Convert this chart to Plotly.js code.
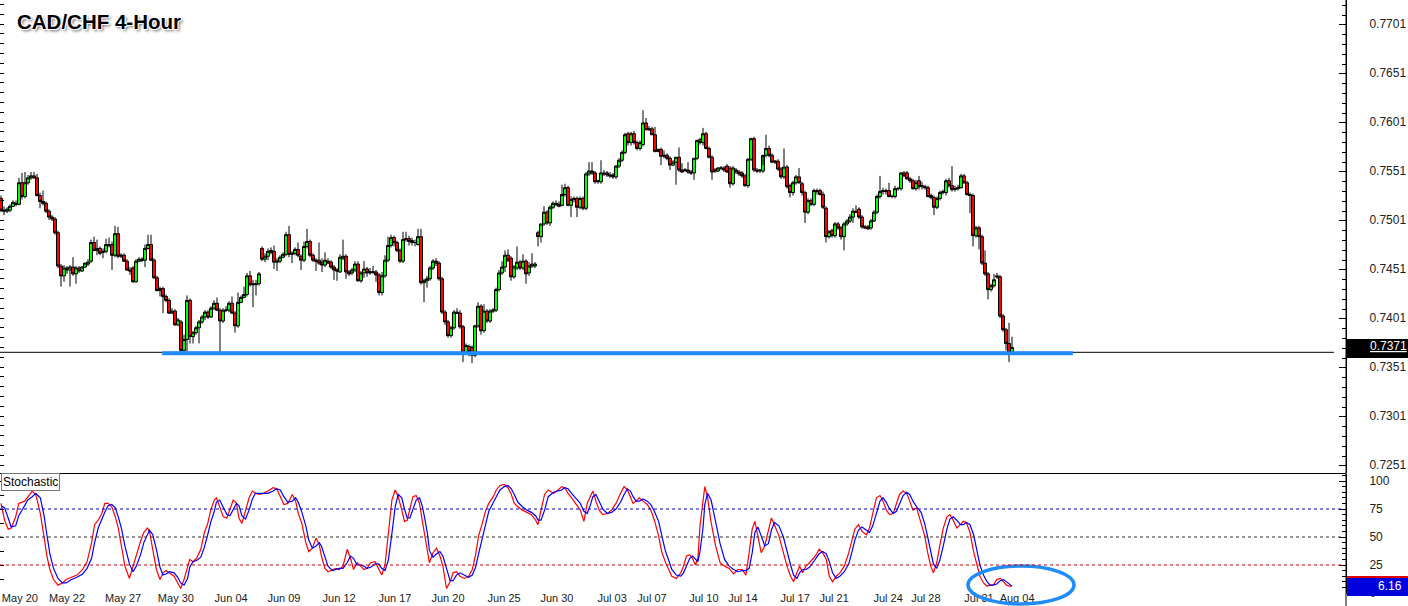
<!DOCTYPE html>
<html><head><meta charset="utf-8">
<script src="https://cdn.plot.ly/plotly-3.0.1.min.js"></script>
<style>html,body{margin:0;padding:0;background:#fff;overflow:hidden}#chart{width:1408px;height:606px}</style>
</head><body><div id="chart"></div>
<script>
// ---- CAD/CHF 4-hour candles ----
const openP = [
0.7523,0.7511,0.7510,0.7511,0.7515,0.7518,0.7517,0.7539,0.7525,0.7539,
0.7544,0.7546,0.7544,0.7526,0.7520,0.7518,0.7510,0.7504,0.7502,0.7488,
0.7454,0.7444,0.7452,0.7450,0.7453,0.7446,0.7452,0.7449,0.7453,0.7456,
0.7459,0.7478,0.7470,0.7472,0.7468,0.7469,0.7475,0.7476,0.7465,0.7487,
0.7464,0.7465,0.7459,0.7450,0.7452,0.7438,0.7459,0.7461,0.7460,0.7472,
0.7476,0.7460,0.7442,0.7429,0.7431,0.7423,0.7419,0.7406,0.7408,0.7394,
0.7397,0.7368,0.7379,0.7419,0.7382,0.7386,0.7391,0.7397,0.7402,0.7407,
0.7402,0.7411,0.7416,0.7409,0.7398,0.7409,0.7409,0.7416,0.7406,0.7393,
0.7417,0.7422,
0.7425,0.7444,0.7436,0.7435,0.7436,0.7472,0.7461,0.7464,
0.7470,0.7469,0.7458,0.7459,0.7463,0.7466,0.7486,0.7466,0.7467,0.7471,
0.7464,0.7460,0.7474,0.7479,0.7465,0.7460,0.7460,0.7458,0.7455,0.7459,
0.7458,0.7453,0.7450,0.7448,0.7462,0.7464,0.7448,0.7447,0.7450,0.7456,
0.7439,0.7447,0.7451,0.7447,0.7448,0.7448,0.7445,0.7427,0.7444,0.7460,
0.7475,0.7483,0.7478,0.7470,0.7459,0.7481,0.7482,0.7480,0.7478,0.7476,
0.7484,0.7437,0.7439,0.7441,0.7452,0.7459,0.7457,0.7441,0.7407,0.7397,
0.7383,0.7391,0.7407,0.7406,0.7392,0.7366,0.7372,0.7371,0.7363,0.7393,
0.7413,0.7388,0.7408,0.7398,0.7408,0.7409,0.7430,0.7447,0.7453,0.7465,
0.7462,0.7443,0.7452,0.7458,0.7452,0.7459,0.7447,0.7454,0.7454,
0.7488,0.7484,0.7497,0.7509,0.7498,0.7514,0.7518,0.7517,0.7516,0.7527,
0.7534,0.7516,0.7522,0.7523,0.7514,0.7523,0.7513,0.7548,0.7551,0.7549,
0.7540,0.7540,0.7549,0.7549,0.7547,0.7547,0.7545,0.7556,0.7562,0.7570,
0.7589,0.7580,0.7589,0.7580,0.7574,0.7578,0.7600,0.7593,0.7594,0.7588,
0.7571,0.7573,0.7566,0.7567,0.7564,0.7557,0.7560,0.7565,0.7552,0.7552,
0.7552,0.7550,0.7549,0.7564,0.7583,0.7580,0.7589,0.7574,0.7565,0.7552,
0.7551,0.7554,0.7554,0.7556,0.7554,0.7538,0.7552,0.7550,0.7549,0.7546,
0.7536,0.7563,0.7584,0.7552,
0.7551,0.7551,0.7567,0.7574,0.7567,0.7560,0.7561,0.7553,0.7545,0.7555,
0.7536,0.7529,0.7539,0.7545,0.7538,0.7529,0.7509,0.7521,0.7517,0.7531,
0.7531,0.7527,0.7513,0.7484,0.7490,0.7485,0.7497,0.7493,0.7484,0.7497,
0.7500,0.7504,0.7510,0.7512,0.7504,0.7494,0.7494,0.7493,0.7500,0.7509,
0.7525,0.7530,0.7531,0.7531,0.7525,0.7525,0.7533,0.7533,0.7549,0.7549,
0.7543,0.7541,0.7533,0.7541,0.7535,0.7535,0.7534,0.7526,0.7524,0.7514,
0.7523,0.7529,0.7529,0.7541,0.7536,0.7532,0.7533,0.7534,0.7546,0.7539,
0.7527,0.7526,0.7485,0.7493,0.7484,0.7457,0.7446,0.7430,0.7434,0.7444,
0.7443,0.7403,0.7389,0.7375,0.7366];
const highP = [
0.7526,0.7515,0.7514,0.7517,0.7521,0.7521,0.7544,0.7549,0.7550,0.7547,
0.7550,0.7550,0.7548,0.7529,0.7531,0.7520,0.7512,0.7506,0.7504,0.7490,
0.7456,0.7455,0.7454,0.7455,0.7463,0.7454,0.7454,0.7454,0.7456,0.7461,
0.7481,0.7484,0.7481,0.7474,0.7472,0.7482,0.7483,0.7479,0.7495,0.7494,
0.7467,0.7467,0.7461,0.7453,0.7454,0.7461,0.7463,0.7463,0.7476,0.7486,
0.7486,0.7462,0.7444,0.7433,0.7433,0.7425,0.7421,0.7411,0.7410,0.7401,
0.7399,0.7384,0.7424,0.7421,0.7388,0.7393,0.7399,0.7404,0.7409,0.7409,
0.7413,0.7419,0.7422,0.7411,0.7411,0.7413,0.7418,0.7423,0.7408,0.7427,
0.7424,0.7433,
0.7447,0.7449,0.7440,0.7440,0.7448,0.7474,0.7467,0.7472,
0.7473,0.7475,0.7462,0.7465,0.7468,0.7489,0.7495,0.7469,0.7473,0.7478,
0.7466,0.7479,0.7492,0.7481,0.7467,0.7462,0.7478,0.7462,0.7468,0.7462,
0.7460,0.7455,0.7452,0.7466,0.7481,0.7466,0.7450,0.7452,0.7459,0.7459,
0.7449,0.7459,0.7453,0.7452,0.7454,0.7450,0.7447,0.7448,0.7465,0.7484,
0.7486,0.7485,0.7480,0.7472,0.7489,0.7489,0.7485,0.7483,0.7481,0.7492,
0.7492,0.7441,0.7444,0.7454,0.7461,0.7462,0.7459,0.7443,0.7409,0.7399,
0.7393,0.7409,0.7411,0.7409,0.7394,0.7375,0.7374,0.7373,0.7394,0.7417,
0.7415,0.7415,0.7410,0.7410,0.7411,0.7432,0.7450,0.7459,0.7470,0.7471,
0.7464,0.7455,0.7474,0.7460,0.7466,0.7461,0.7458,0.7467,0.7458,
0.7490,0.7497,0.7515,0.7511,0.7516,0.7520,0.7521,0.7520,0.7537,0.7538,
0.7536,0.7525,0.7525,0.7525,0.7525,0.7525,0.7550,0.7560,0.7560,0.7551,
0.7542,0.7562,0.7552,0.7551,0.7550,0.7549,0.7557,0.7564,0.7572,0.7590,
0.7591,0.7591,0.7592,0.7582,0.7582,0.7613,0.7605,0.7597,0.7596,0.7596,
0.7574,0.7575,0.7572,0.7569,0.7566,0.7562,0.7565,0.7575,0.7559,0.7554,
0.7560,0.7552,0.7564,0.7583,0.7585,0.7595,0.7591,0.7576,0.7567,0.7554,
0.7555,0.7556,0.7556,0.7558,0.7556,0.7556,0.7554,0.7552,0.7551,0.7548,
0.7564,0.7585,0.7586,0.7554,
0.7553,0.7557,0.7588,0.7577,0.7569,0.7562,0.7563,0.7555,0.7574,0.7557,
0.7538,0.7541,0.7547,0.7554,0.7540,0.7531,0.7523,0.7523,0.7533,0.7533,
0.7533,0.7530,0.7515,0.7491,0.7492,0.7499,0.7499,0.7495,0.7499,0.7502,
0.7507,0.7513,0.7516,0.7514,0.7506,0.7496,0.7496,0.7502,0.7511,0.7527,
0.7546,0.7534,0.7533,0.7539,0.7527,0.7536,0.7535,0.7550,0.7551,0.7551,
0.7545,0.7543,0.7542,0.7546,0.7540,0.7537,0.7536,0.7528,0.7526,0.7525,
0.7531,0.7532,0.7543,0.7544,0.7556,0.7536,0.7537,0.7548,0.7548,0.7541,
0.7529,0.7528,0.7495,0.7495,0.7486,0.7470,0.7448,0.7436,0.7446,0.7447,
0.7445,0.7405,0.7391,0.7396,0.7382];
const lowP = [
0.7509,0.7506,0.7508,0.7509,0.7514,0.7515,0.7516,0.7522,0.7523,0.7537,
0.7542,0.7543,0.7525,0.7513,0.7516,0.7508,0.7501,0.7500,0.7486,0.7452,
0.7433,0.7438,0.7446,0.7433,0.7444,0.7436,0.7447,0.7448,0.7452,0.7454,
0.7457,0.7469,0.7465,0.7465,0.7462,0.7467,0.7473,0.7450,0.7463,0.7462,
0.7462,0.7458,0.7449,0.7445,0.7437,0.7437,0.7458,0.7458,0.7453,0.7471,
0.7459,0.7441,0.7428,0.7423,0.7406,0.7417,0.7405,0.7405,0.7393,0.7393,
0.7365,0.7366,0.7367,0.7375,0.7375,0.7384,0.7375,0.7395,0.7399,0.7400,
0.7401,0.7409,0.7408,0.7366,0.7396,0.7407,0.7407,0.7405,0.7386,0.7391,
0.7416,0.7421,
0.7423,0.7433,0.7412,0.7424,0.7434,0.7459,0.7458,0.7460,
0.7466,0.7451,0.7449,0.7457,0.7462,0.7464,0.7463,0.7457,0.7465,0.7463,
0.7450,0.7458,0.7472,0.7463,0.7458,0.7449,0.7455,0.7448,0.7453,0.7456,
0.7451,0.7440,0.7439,0.7447,0.7460,0.7441,0.7444,0.7445,0.7448,0.7438,
0.7437,0.7442,0.7443,0.7445,0.7446,0.7438,0.7424,0.7424,0.7442,0.7458,
0.7473,0.7474,0.7468,0.7457,0.7457,0.7479,0.7475,0.7475,0.7474,0.7475,
0.7435,0.7417,0.7432,0.7439,0.7450,0.7454,0.7439,0.7405,0.7394,0.7381,
0.7381,0.7389,0.7405,0.7390,0.7356,0.7364,0.7362,0.7355,0.7361,0.7391,
0.7384,0.7386,0.7396,0.7396,0.7406,0.7407,0.7428,0.7445,0.7448,0.7458,
0.7439,0.7441,0.7450,0.7450,0.7450,0.7436,0.7444,0.7452,0.7452,
0.7474,0.7478,0.7495,0.7496,0.7495,0.7512,0.7515,0.7514,0.7515,0.7525,
0.7515,0.7504,0.7519,0.7504,0.7512,0.7511,0.7511,0.7546,0.7547,0.7538,
0.7538,0.7538,0.7546,0.7545,0.7544,0.7543,0.7543,0.7554,0.7560,0.7568,
0.7577,0.7577,0.7578,0.7572,0.7572,0.7576,0.7593,0.7592,0.7588,0.7570,
0.7570,0.7557,0.7564,0.7562,0.7552,0.7556,0.7537,0.7550,0.7549,0.7550,
0.7548,0.7547,0.7542,0.7562,0.7578,0.7577,0.7573,0.7564,0.7542,0.7549,
0.7550,0.7552,0.7550,0.7549,0.7534,0.7536,0.7548,0.7546,0.7544,0.7535,
0.7534,0.7561,0.7550,0.7549,
0.7549,0.7549,0.7565,0.7565,0.7559,0.7558,0.7551,0.7543,0.7543,0.7533,
0.7524,0.7526,0.7537,0.7538,0.7526,0.7498,0.7507,0.7515,0.7515,0.7527,
0.7526,0.7512,0.7478,0.7482,0.7483,0.7483,0.7491,0.7481,0.7470,0.7495,
0.7498,0.7498,0.7508,0.7502,0.7492,0.7492,0.7491,0.7491,0.7499,0.7507,
0.7523,0.7527,0.7527,0.7524,0.7523,0.7523,0.7531,0.7531,0.7545,0.7542,
0.7539,0.7532,0.7531,0.7532,0.7532,0.7532,0.7524,0.7522,0.7506,0.7512,
0.7521,0.7527,0.7526,0.7534,0.7530,0.7530,0.7531,0.7533,0.7538,0.7526,
0.7508,0.7474,0.7483,0.7471,0.7455,0.7444,0.7420,0.7428,0.7432,0.7441,
0.7401,0.7387,0.7368,0.7356,0.7364];
const closeP = [
0.7511,0.7510,0.7512,0.7515,0.7519,0.7517,0.7539,0.7525,0.7539,0.7544,
0.7546,0.7544,0.7526,0.7520,0.7518,0.7510,0.7504,0.7502,0.7488,0.7454,
0.7444,0.7452,0.7450,0.7453,0.7446,0.7452,0.7449,0.7453,0.7457,0.7458,
0.7478,0.7470,0.7472,0.7467,0.7469,0.7476,0.7476,0.7465,0.7487,0.7464,
0.7465,0.7459,0.7450,0.7449,0.7438,0.7459,0.7461,0.7460,0.7472,0.7476,
0.7460,0.7442,0.7429,0.7431,0.7423,0.7419,0.7406,0.7408,0.7394,0.7399,
0.7368,0.7379,0.7419,0.7382,0.7386,0.7391,0.7397,0.7402,0.7407,0.7402,
0.7411,0.7416,0.7409,0.7398,0.7409,0.7409,0.7416,0.7406,0.7393,0.7417,
0.7422,0.7425,
0.7444,0.7435,0.7435,0.7436,0.7446,0.7461,0.7464,0.7469,
0.7468,0.7458,0.7459,0.7463,0.7466,0.7486,0.7466,0.7467,0.7471,0.7465,
0.7460,0.7474,0.7479,0.7465,0.7460,0.7459,0.7457,0.7455,0.7460,0.7457,
0.7453,0.7450,0.7449,0.7463,0.7464,0.7448,0.7446,0.7450,0.7456,0.7439,
0.7447,0.7451,0.7447,0.7448,0.7448,0.7445,0.7427,0.7444,0.7460,0.7475,
0.7483,0.7478,0.7470,0.7459,0.7481,0.7482,0.7479,0.7478,0.7478,0.7484,
0.7437,0.7439,0.7441,0.7452,0.7459,0.7457,0.7441,0.7407,0.7397,0.7383,
0.7391,0.7407,0.7406,0.7392,0.7366,0.7373,0.7367,0.7363,0.7393,0.7413,
0.7388,0.7408,0.7398,0.7408,0.7409,0.7430,0.7447,0.7453,0.7465,0.7460,
0.7443,0.7453,0.7458,0.7452,0.7459,0.7446,0.7454,0.7456,0.7456,
0.7484,0.7497,0.7509,0.7498,0.7514,0.7518,0.7517,0.7515,0.7527,0.7534,
0.7516,0.7522,0.7523,0.7514,0.7523,0.7513,0.7548,0.7551,0.7549,0.7540,
0.7541,0.7549,0.7548,0.7547,0.7546,0.7545,0.7556,0.7562,0.7570,0.7588,
0.7580,0.7589,0.7580,0.7574,0.7580,0.7600,0.7593,0.7594,0.7588,0.7571,
0.7573,0.7566,0.7567,0.7564,0.7557,0.7560,0.7565,0.7552,0.7550,0.7552,
0.7550,0.7549,0.7564,0.7582,0.7580,0.7589,0.7574,0.7565,0.7550,0.7551,
0.7554,0.7554,0.7552,0.7550,0.7538,0.7554,0.7550,0.7548,0.7546,0.7536,
0.7563,0.7584,0.7552,0.7551,
0.7552,0.7567,0.7574,0.7567,0.7560,0.7561,0.7553,0.7545,0.7555,0.7535,
0.7529,0.7539,0.7545,0.7539,0.7529,0.7509,0.7521,0.7517,0.7531,0.7530,
0.7527,0.7514,0.7484,0.7489,0.7485,0.7497,0.7493,0.7484,0.7497,0.7500,
0.7504,0.7510,0.7509,0.7504,0.7494,0.7493,0.7492,0.7500,0.7509,0.7525,
0.7530,0.7531,0.7530,0.7525,0.7525,0.7533,0.7533,0.7549,0.7546,0.7543,
0.7541,0.7533,0.7539,0.7535,0.7536,0.7534,0.7525,0.7524,0.7514,0.7523,
0.7529,0.7530,0.7541,0.7536,0.7532,0.7533,0.7534,0.7546,0.7539,0.7527,
0.7526,0.7485,0.7493,0.7484,0.7457,0.7446,0.7430,0.7434,0.7440,0.7443,
0.7403,0.7389,0.7375,0.7366,0.7371];

// ---- time-axis labels (bar positions of the date labels) ----
const dateLabels = ['May 20','May 22','May 27','May 30','Jun 04','Jun 09','Jun 12','Jun 17','Jun 20','Jun 25','Jun 30','Jul 03','Jul 07','Jul 10','Jul 14','Jul 17','Jul 21','Jul 24','Jul 28','Jul 31','Aug 04'];
const dateBars = [6.3,22,40.7,58.3,76.7,94.3,112.7,131.3,149,167.7,185.3,203.7,217,234.3,247.3,264.7,277.7,295.7,308.3,326,338.7];

// ---- Stochastic oscillator ----
const stochBar = [
0,1.2,2.4,3.4,4.9,5.9,7.9,8.9,10.4,11.6,
13.1,14.3,15.3,16.3,17.5,19,20.5,21.7,23.5,25.3,
27.2,28.7,30.2,31.2,32.4,33.6,34.6,35.7,36.9,38.1,
39.1,40.2,41.3,42.8,44,45.1,46.5,47.6,48.8,49.5,
50.6,51.8,53,54,55,56.2,57.7,58.9,59.9,61,
62.2,62.9,64,65.2,66.6,67.8,68.9,69.9,71.1,71.8,
72.9,74.1,75.3,76.3,77.4,78.5,79.3,80.3,81.5,82.7,
83.8,84.8,86,87.5,89,90.7,91.9,93.1,94.3,95.6,
97.1,98.2,99.1,100.3,101.6,102.6,103.8,105,106.1,106.8,
108,109,110.5,111.6,112.8,114,115.4,116.5,117.5,118.7,
119.9,121,122,123.2,124.7,125.9,126.9,128,129.1,130.3,
131.4,132.4,133.6,134.5,135.4,136.3,137.3,138.4,139.5,140.4,
141.3,142.2,142.8,144,145.2,146.3,147.3,148.5,149.7,150.7,
151.8,153,154.4,155.9,157.1,158.2,159.2,160.4,161.6,162.6,
164.1,165.1,166.3,167.8,169,170.1,171.1,172.3,173.8,175.3,
176.8,178.2,179,180,181.2,182.4,184.2,185.7,186.9,187.9,
189,190.2,191.6,193.1,194.3,195.4,196.4,197.3,198.3,199.4,
200.6,202.1,203.5,205,206.5,207.7,208.8,209.8,210.7,211.7,
212.8,214,215.4,216.6,217.8,219.2,220.2,221.4,222.6,223.6,
225.1,226.6,227.5,228.5,229.6,230.5,
231.5,232.3,233,234,234.6,235.5,236.7,238.2,239.7,241.2,
242.7,244.2,245.6,247.1,248.3,249.4,250.4,251.3,252.3,253.4,
254.6,255.8,256.8,257.8,259.3,260.8,262,263.2,264.2,265.3,
266.2,267.2,268.3,269.5,270.6,271.7,272.7,273.9,275.1,276.1,
277.2,278.4,279.6,281.1,282.6,283.6,284.6,285.8,287,288.5,
289.5,290.6,291.8,293,294,295.1,296.2,297.4,298.5,299.5,
300.7,301.9,302.9,304,305.2,306.7,307.9,308.9,309.9,310.8,
311.9,312.9,314.1,315.3,316.3,317.4,318.6,319.8,320.8,321.8,
323,324.2,325.3,326.3,327.5,328.7,329.7,330.8,331.9,333.1,
334.2,335.2,336.4,337];
const stochK = [
80,65,57,58,68,80,82,86,91,88,
71,51,33,21,12,7,9,12,14,16,
21,28,45,61,65,71,80,80,77,68,
58,42,24,13,24,33,46,54,58,55,
39,21,12,18,20,18,15,9,4,12,
24,30,28,31,39,54,62,74,83,85,
77,68,67,74,83,80,67,62,74,85,
91,89,88,89,91,94,93,86,79,80,
88,82,71,62,45,37,40,49,43,33,
22,19,21,22,21,24,39,31,21,27,
24,21,22,27,28,21,16,25,51,83,
92,86,74,64,65,74,86,87,80,65,
52,37,27,36,40,33,24,4,10,18,
19,15,13,15,21,34,51,62,74,80,
86,92,96,97,94,88,80,77,74,72,
70,65,61,74,88,92,89,92,95,94,
89,85,80,74,64,80,86,91,82,74,
70,71,74,80,89,95,92,86,80,82,
85,82,79,74,65,51,37,28,21,15,
13,18,24,33,34,31,
25,31,60,80,95,86,63,42,27,24,
22,17,21,21,16,36,57,64,52,36,
42,57,67,61,51,36,24,15,10,18,
24,18,24,27,31,34,39,36,30,15,
10,15,18,24,36,48,57,61,55,52,
58,71,85,87,82,74,70,71,80,88,
91,89,82,74,76,61,51,36,24,18,
27,42,58,68,70,65,58,61,64,63,
54,37,24,15,9,6,7,7,12,13,
10,7,6,6.9];
const stochD = [
78,76,67,59,60,69,78,83,86,89,
85,70,52,35,22,13,9,9,12,14,
17,22,31,45,58,66,72,78,79,76,
68,57,42,26,19,24,34,45,53,56,
52,39,23,16,17,19,18,14,9,7,
13,23,28,29,32,41,52,63,73,81,
83,77,70,69,75,80,78,69,66,74,
84,89,89,89,89,91,93,92,86,81,
82,85,81,72,60,47,40,42,45,42,
33,24,20,21,22,22,27,33,31,25,
25,24,22,23,26,26,22,20,29,53,
77,88,85,75,67,67,75,83,85,78,
66,52,38,32,35,37,33,21,11,11,
16,18,16,14,16,23,35,50,62,73,
80,86,92,95,96,93,88,81,77,74,
72,69,65,65,74,86,90,91,92,94,
93,89,85,80,73,71,78,86,88,82,
75,71,72,75,81,88,93,91,86,82,
82,84,82,79,73,64,51,38,29,21,
16,15,18,25,31,33,
30,28,37,58,79,89,83,64,44,30,
24,21,19,20,20,22,36,54,59,51,
42,44,56,63,60,50,37,25,16,13,
18,21,21,23,27,31,35,37,35,28,
18,13,15,19,26,36,47,56,59,56,
54,60,71,82,85,81,75,71,73,80,
87,90,88,82,77,72,62,50,37,26,
22,29,42,57,66,68,65,61,61,63,
61,52,38,25,16,10,7,7,8,11,
12,10,7.5,6.16];

// reference levels
const supportLevel = 0.7366;
const drawnSupport = 0.7365;
const lastPrice = 0.7371;
const lastStoch = 6.16;
const stochLevels = [75, 50, 25];

const barIdx = closeP.map((_, i) => i);
const FONT = 'Liberation Sans, Arial, sans-serif';

const traces = [
  {type:'candlestick', x:barIdx, open:openP, high:highP, low:lowP, close:closeP,
   xaxis:'x', yaxis:'y', whiskerwidth:0, hoverinfo:'skip', showlegend:false,
   increasing:{line:{color:'#000', width:1}, fillcolor:'#00ff00'},
   decreasing:{line:{color:'#000', width:1}, fillcolor:'#ff0000'}},
  {type:'scatter', mode:'lines', x:stochBar, y:stochK, xaxis:'x', yaxis:'y2',
   line:{color:'#ff0000', width:1.2}, hoverinfo:'skip', showlegend:false},
  {type:'scatter', mode:'lines', x:stochBar, y:stochD, xaxis:'x', yaxis:'y2',
   line:{color:'#0000ff', width:1.2}, hoverinfo:'skip', showlegend:false},
  {type:'scatter', x:[], y:[], xaxis:'x', yaxis:'y3', showlegend:false, hoverinfo:'skip'},
  {type:'scatter', x:[], y:[], xaxis:'x', yaxis:'y4', showlegend:false, hoverinfo:'skip'}
];

const priceRange = [0.724284, 0.772549];
const stochRange = [-0.89, 106.25];
const PW = 1346; // plot width px
const PH = 594;  // plot height px

const shapes = [
  {type:'line', xref:'paper', yref:'paper', x0:0, x1:1, y0:(PH-473.5)/PH, y1:(PH-473.5)/PH, line:{color:'#000', width:1}},
  {type:'line', xref:'paper', yref:'y', x0:0, x1:1334/PW, y0:supportLevel, y1:supportLevel, line:{color:'#000', width:1}},
  {type:'line', xref:'x', yref:'y', x0:53.7, x1:357.3, y0:drawnSupport, y1:drawnSupport, line:{color:'rgb(30,140,250)', width:4}, layer:'above'},
  {type:'line', xref:'paper', yref:'paper', x0:1, x1:1, y0:-12/PH, y1:1, line:{color:'#000', width:1}},
  {type:'rect', xref:'paper', yref:'paper', x0:1, x1:1408/PW, y0:(PH-358)/PH, y1:(PH-339)/PH, fillcolor:'#000', line:{width:0}},
  {type:'rect', xref:'paper', yref:'paper', x0:1.0008, x1:1408/PW, y0:-2/PH, y1:(PH-578)/PH, fillcolor:'#0000dd', line:{width:0}},
  {type:'line', xref:'paper', yref:'paper', x0:1.0008, x1:1408/PW, y0:(PH-577)/PH, y1:(PH-577)/PH, line:{color:'#dd0000', width:2}},
  {type:'circle', xref:'paper', yref:'paper', x0:968/PW, x1:1074/PW, y0:(PH-604)/PH, y1:(PH-566)/PH, line:{color:'rgb(30,140,250)', width:3.5}, layer:'above'}
];
const levelColors = ['#0000c0', '#333333', '#c00000'];
stochLevels.forEach((lv, k) => {
  shapes.push({type:'line', xref:'paper', yref:'y2', x0:0, x1:1343/PW, y0:lv, y1:lv,
    line:{color:levelColors[k], width:1, dash:'3px,3px'}});
});

const annotations = [
  {xref:'paper', yref:'paper', x:0.001, y:(PH-482)/PH, xanchor:'left', yanchor:'middle', text:'Stochastic',
   showarrow:false, bgcolor:'#ffffff', bordercolor:'#777', borderwidth:1, borderpad:1,
   font:{family:FONT, size:12, color:'#000'}},
  {xref:'paper', yref:'paper', x:1368/PW, y:(PH-346)/PH, xanchor:'left', yanchor:'middle', showarrow:false,
   text:'<u>' + lastPrice.toFixed(4) + '</u>', font:{family:FONT, size:12, color:'#fff'}},
  {xref:'paper', yref:'paper', x:1404/PW, y:(PH-586)/PH, xanchor:'right', yanchor:'middle', showarrow:false,
   text:lastStoch.toFixed(2), font:{family:FONT, size:12, color:'#fff'}}
];

const tickFont = {family:FONT, size:12, color:'#222'};
const layout = {
  width:1408, height:606,
  margin:{l:0, r:62, t:0, b:12, pad:0},
  paper_bgcolor:'#fff', plot_bgcolor:'#fff',
  showlegend:false, boxgap:0, boxgroupgap:0, dragmode:false,
  title:{text:'CAD/CHF 4-Hour', xref:'container', yref:'container', x:17/1408, xanchor:'left', y:1-22/606, yanchor:'middle',
    font:{family:FONT, size:20.5, weight:'bold', color:'#000',
      shadow:'1px 1px 0 #fff, -1px -1px 0 #fff, 1px -1px 0 #fff, -1px 1px 0 #fff, 2px 2px 3px #666'}},
  xaxis:{range:[-1/3, 448.333], anchor:'y2', showgrid:false, zeroline:false, showline:false,
    tickmode:'array', tickvals:dateBars, ticktext:dateLabels, ticks:'', ticklabelstandoff:-4,
    tickfont:{family:FONT, size:11, color:'#222'}, rangeslider:{visible:false}, fixedrange:true},
  yaxis:{domain:[(PH-473)/PH, 1], range:priceRange, side:'right', anchor:'x', showgrid:false, zeroline:false,
    showline:true, linecolor:'#000', linewidth:1, ticks:'inside', ticklen:7, tickcolor:'#000',
    tick0:0.7251, dtick:0.005, tickformat:'.4f', tickfont:tickFont, ticklabelstandoff:20,
    minor:{dtick:0.001, ticks:'inside', ticklen:4, tickcolor:'#000'}, fixedrange:true},
  yaxis2:{domain:[0, (PH-474)/PH], range:stochRange, side:'right', anchor:'x', showgrid:false, zeroline:false,
    showline:true, linecolor:'#000', linewidth:1, ticks:'inside', ticklen:7, tickcolor:'#000',
    tickmode:'array', tickvals:[0,25,50,75,100], ticktext:['0','25','50','75','100'], tickfont:tickFont, ticklabelstandoff:20,
    minor:{tickmode:'linear', tick0:0, dtick:5, ticks:'inside', ticklen:4, tickcolor:'#000'}, fixedrange:true},
  yaxis3:{overlaying:'y', side:'left', anchor:'x', range:priceRange, showgrid:false, zeroline:false, showline:false,
    ticks:'inside', ticklen:4, tickcolor:'#000', tick0:0.7251, dtick:0.001, showticklabels:false, fixedrange:true},
  yaxis4:{overlaying:'y2', side:'left', anchor:'x', range:stochRange, showgrid:false, zeroline:false, showline:false,
    ticks:'inside', ticklen:4, tickcolor:'#000', tick0:0, dtick:12.5, showticklabels:false, fixedrange:true},
  shapes:shapes, annotations:annotations
};

Plotly.newPlot('chart', traces, layout, {displayModeBar:false, staticPlot:true});
</script>
</body></html>
